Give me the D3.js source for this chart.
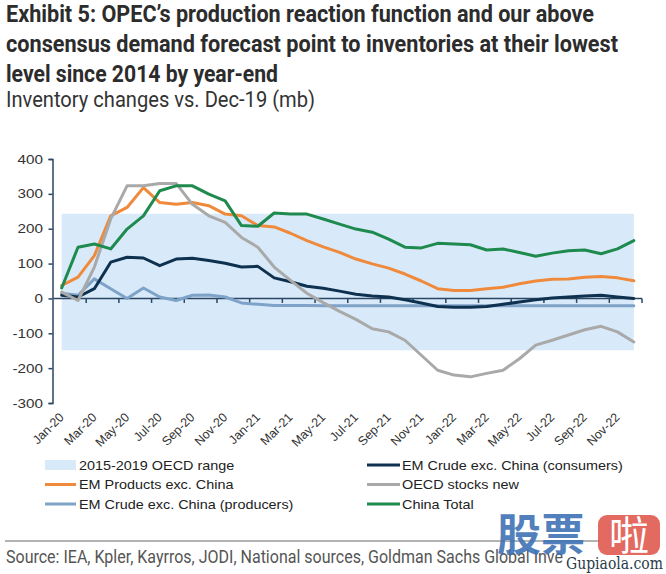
<!DOCTYPE html>
<html>
<head>
<meta charset="utf-8">
<script src="https://cdn.jsdelivr.net/npm/d3@7/dist/d3.min.js"></script>
<style>
  html, body { margin: 0; padding: 0; background: #fff; }
  svg { display: block; }
</style>
</head>
<body>
<svg id="chart" width="666" height="574"></svg>
<script>
// ---------- DATA ----------
const months = ["Jan-20","Feb-20","Mar-20","Apr-20","May-20","Jun-20","Jul-20","Aug-20","Sep-20","Oct-20","Nov-20","Dec-20",
                "Jan-21","Feb-21","Mar-21","Apr-21","May-21","Jun-21","Jul-21","Aug-21","Sep-21","Oct-21","Nov-21","Dec-21",
                "Jan-22","Feb-22","Mar-22","Apr-22","May-22","Jun-22","Jul-22","Aug-22","Sep-22","Oct-22","Nov-22","Dec-22"];
const tickLabels = ["Jan-20","Mar-20","May-20","Jul-20","Sep-20","Nov-20","Jan-21","Mar-21","May-21","Jul-21","Sep-21","Nov-21",
                    "Jan-22","Mar-22","May-22","Jul-22","Sep-22","Nov-22"];
const yTicks = [400, 300, 200, 100, 0, -100, -200, -300];

const oecdRangeLow = -149;
const oecdRangeHigh = 243;

const emCrudeConsumers = [9,4,28,104,118,116,94,113,115,109,101,90,
                          92,59,48,35,29,21,12,7,4,-4,-13,-23,
                          -25,-25,-23,-17,-10,-4,1,4,7,9,4,0];
const emProducts = [37,61,123,237,261,318,275,270,275,266,242,237,
                    209,205,187,166,148,132,113,99,87,70,50,28,
                    23,23,28,32,42,50,55,56,61,63,59,51];
const oecdStocks = [18,-6,90,228,323,323,330,330,270,237,218,175,
                    147,90,52,15,-12,-37,-60,-87,-96,-120,-163,-206,
                    -220,-225,-215,-206,-173,-134,-120,-105,-90,-80,-96,-125];
const emCrudeProducers = [15,9,56,28,0,30,4,-6,9,10,4,-13,
                          -17,-20,-20,-20,-21,-21,-21,-21,-21,-21,-21,-21,
                          -21,-21,-21,-21,-21,-21,-21,-21,-21,-21,-21,-21];
const chinaTotal = [30,147,156,142,199,237,309,323,323,299,280,209,
                    207,245,242,242,228,213,199,190,170,147,145,158,
                    156,154,139,142,132,121,130,137,139,128,142,166];

const rangeName = "2015-2019 OECD range";

// ---------- STYLE ----------
const colors = {
  "EM Crude exc. China (consumers)": "#0f3150",
  "EM Products exc. China": "#ef8a3c",
  "OECD stocks new": "#a9a9a9",
  "EM Crude exc. China (producers)": "#7fa3c8",
  "China Total": "#1e8a4e"
};
const bandColor = "#d8eaf9";
const axisColor = "#2a4663";

const svg = d3.select("#chart");

// ---------- SCALES ----------
const x = d3.scaleBand().domain(months).range([53.5, 642]).padding(0);
const cx = m => x(m) + x.bandwidth() / 2;
const y = d3.scaleLinear().domain([-300, 400]).range([403, 159]);

// ---------- TITLE ----------
const titleFont = "'Liberation Sans Narrow','Roboto','Liberation Sans',sans-serif";
const titleLines = [
  {t: "Exhibit 5: OPEC\u2019s production reaction function and our above", y: 22, w: 588},
  {t: "consensus demand forecast point to inventories at their lowest", y: 52, w: 612},
  {t: "level since 2014 by year-end", y: 82, w: 272}
];
titleLines.forEach(l => {
  svg.append("text").attr("x", 6).attr("y", l.y)
    .attr("font-family", titleFont).attr("font-weight", "bold").attr("font-size", 24)
    .attr("fill", "#2c2c2c")
    .attr("textLength", l.w).attr("lengthAdjust", "spacingAndGlyphs")
    .text(l.t);
});
svg.append("text").attr("x", 6).attr("y", 107)
  .attr("font-family", titleFont).attr("font-size", 22)
  .attr("fill", "#333")
  .attr("textLength", 309).attr("lengthAdjust", "spacingAndGlyphs")
  .text("Inventory changes vs. Dec-19 (mb)");

// ---------- BAND ----------
const bandArea = d3.area()
  .x(m => cx(m))
  .y0(() => y(oecdRangeLow))
  .y1(() => y(oecdRangeHigh));
svg.append("path").datum(months).attr("d", bandArea).attr("fill", bandColor);

// ---------- AXES ----------
const gy = svg.append("g").attr("transform", "translate(52.5,0)")
  .call(d3.axisLeft(y).tickValues(yTicks).tickSize(4).tickFormat(""));
gy.select(".domain").attr("stroke", axisColor).attr("stroke-width", 1.5);
gy.selectAll(".tick line").attr("stroke", axisColor).attr("stroke-width", 1.5);
yTicks.forEach(v => {
  svg.append("text")
    .attr("transform", `translate(43,${y(v) + 4.5}) scale(1.22,1)`)
    .attr("text-anchor", "end")
    .attr("font-family", "'Liberation Sans',Arial,sans-serif").attr("font-size", 12.5)
    .attr("fill", "#333").text(v);
});

// x axis at zero, ticks at every 2 category boundaries
const boundaries = d3.range(0, months.length + 1, 2).map(i => i === months.length ? x.range()[1] : x(months[i]));
const gx = svg.append("g");
gx.append("line").attr("x1", x.range()[0]).attr("x2", x.range()[1])
  .attr("y1", y(0)).attr("y2", y(0)).attr("stroke", axisColor).attr("stroke-width", 1.5);
gx.selectAll("line.tk").data(boundaries.slice(1)).join("line").attr("class", "tk")
  .attr("x1", d => d).attr("x2", d => d).attr("y1", y(0)).attr("y2", y(0) + 4.5)
  .attr("stroke", axisColor).attr("stroke-width", 1.5);

// x tick labels (rotated) along the bottom
svg.append("g").selectAll("text").data(tickLabels).join("text")
  .attr("transform", d => `translate(${cx(d) + 3},${418}) rotate(-45)`)
  .attr("text-anchor", "end")
  .attr("font-family", "'Liberation Sans',Arial,sans-serif").attr("font-size", 12.5)
  .attr("fill", "#333").text(d => d);

// ---------- LINES ----------
const seriesData = {
  "EM Crude exc. China (consumers)": emCrudeConsumers,
  "EM Products exc. China": emProducts,
  "OECD stocks new": oecdStocks,
  "EM Crude exc. China (producers)": emCrudeProducers,
  "China Total": chinaTotal
};
const line = d3.line().x((d, i) => cx(months[i])).y(d => y(d));
["EM Crude exc. China (producers)","EM Crude exc. China (consumers)","EM Products exc. China","OECD stocks new","China Total"]
  .forEach(name => {
    svg.append("path").datum(seriesData[name]).attr("d", line)
      .attr("fill", "none").attr("stroke", colors[name]).attr("stroke-width", 3)
      .attr("stroke-linejoin", "round").attr("stroke-linecap", "round");
  });

// ---------- LEGEND ----------
const legendItems = [
  {name: rangeName, col: 0, row: 0, band: true},
  {name: "EM Products exc. China", col: 0, row: 1},
  {name: "EM Crude exc. China (producers)", col: 0, row: 2},
  {name: "EM Crude exc. China (consumers)", col: 1, row: 0},
  {name: "OECD stocks new", col: 1, row: 1},
  {name: "China Total", col: 1, row: 2}
];
const colX = [{s: 45, e: 76, t: 79}, {s: 367, e: 400, t: 402}];
const rowY = [465, 484.5, 504];
legendItems.forEach(it => {
  const c = colX[it.col], ry = rowY[it.row];
  if (it.band) {
    svg.append("rect").attr("x", c.s).attr("y", ry - 5).attr("width", c.e - c.s).attr("height", 10).attr("fill", bandColor);
  } else {
    svg.append("line").attr("x1", c.s).attr("x2", c.e).attr("y1", ry).attr("y2", ry)
      .attr("stroke", colors[it.name]).attr("stroke-width", 3);
  }
  svg.append("text").attr("transform", `translate(${c.t},${ry + 4.5}) scale(1.2,1)`)
    .attr("font-family", "'Liberation Sans',Arial,sans-serif").attr("font-size", 12)
    .attr("fill", "#222").text(it.name);
});

// ---------- SOURCE ----------
svg.append("line").attr("x1", 5).attr("x2", 600).attr("y1", 541).attr("y2", 541)
  .attr("stroke", "#9a9a9a").attr("stroke-width", 1.5);
svg.append("text").attr("x", 6).attr("y", 563)
  .attr("font-family", titleFont).attr("font-size", 18).attr("fill", "#555")
  .attr("textLength", 557).attr("lengthAdjust", "spacingAndGlyphs")
  .text("Source: IEA, Kpler, Kayrros, JODI, National sources, Goldman Sachs Global Inve");

// ---------- WATERMARK ----------
const wm = svg.append("g");
wm.append("text").attr("x", 497).attr("y", 551).attr("font-family", "'Noto Sans CJK SC',sans-serif")
  .attr("font-size", 44).attr("font-weight", "bold").attr("fill", "#3f73b5").attr("opacity", 0.9).text("股票");
wm.append("rect").attr("x", 598).attr("y", 515).attr("width", 62).attr("height", 40).attr("rx", 9)
  .attr("fill", "#e05a50").attr("opacity", 0.9);
wm.append("text").attr("x", 629).attr("y", 550).attr("text-anchor", "middle").attr("font-family", "'Noto Sans CJK SC',sans-serif")
  .attr("font-size", 40).attr("fill", "#fff").text("啦");
wm.append("text").attr("x", 566).attr("y", 569).attr("font-family", "'DejaVu Serif','Liberation Serif',serif")
  .attr("font-size", 16).attr("fill", "#2a3a4a").attr("textLength", 97).attr("lengthAdjust", "spacingAndGlyphs").text("Gupiaola.com");
</script>
</body>
</html>
